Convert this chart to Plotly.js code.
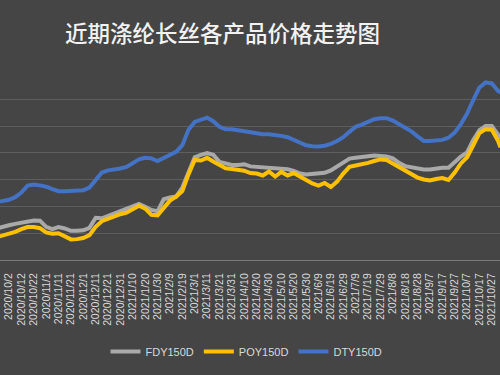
<!DOCTYPE html>
<html>
<head>
<meta charset="utf-8">
<script src="https://cdn.plot.ly/plotly-3.0.1.min.js"></script>
<style>
html,body{margin:0;padding:0;background:#454545;}
#chart{width:500px;height:375px;}
</style>
</head>
<body>
<div id="chart"></div>
<script>
// Sampling dates (roughly every 5 days)
var dates = [
 '2020-09-24','2020-09-27',
 '2020-10-02','2020-10-07','2020-10-12','2020-10-17','2020-10-22','2020-10-27','2020-11-01','2020-11-06','2020-11-11','2020-11-16',
 '2020-11-21','2020-11-26','2020-12-01','2020-12-06','2020-12-11','2020-12-16','2020-12-21','2020-12-26','2020-12-31','2021-01-05',
 '2021-01-10','2021-01-15','2021-01-20','2021-01-25','2021-01-30','2021-02-04','2021-02-09','2021-02-14','2021-02-19','2021-02-24',
 '2021-03-01','2021-03-06','2021-03-11','2021-03-16','2021-03-21','2021-03-26','2021-03-31','2021-04-05','2021-04-10','2021-04-15',
 '2021-04-20','2021-04-25','2021-04-30','2021-05-05','2021-05-10','2021-05-15','2021-05-20','2021-05-25','2021-05-30','2021-06-04',
 '2021-06-09','2021-06-14','2021-06-19','2021-06-24','2021-06-29','2021-07-04','2021-07-09','2021-07-14','2021-07-19','2021-07-24',
 '2021-07-29','2021-08-03','2021-08-08','2021-08-13','2021-08-18','2021-08-23','2021-08-28','2021-09-02','2021-09-07','2021-09-12',
 '2021-09-17','2021-09-22','2021-09-27','2021-10-02','2021-10-07','2021-10-12','2021-10-17','2021-10-22','2021-10-27','2021-11-01',
 '2021-11-03'
];

var fdy150d = [
 5200, 5250,
 5300, 5350, 5390, 5460, 5480, 5470, 5240, 5150, 5230, 5180,
 5090, 5090, 5110, 5200, 5580, 5560, 5650, 5750, 5860, 5940,
 6010, 6100, 5990, 5870, 5820, 6270, 6340, 6370, 6710, 7310,
 7840, 7930, 8000, 7930, 7670, 7610, 7550, 7550, 7580, 7500,
 7480, 7460, 7450, 7430, 7420, 7390, 7330, 7230, 7200, 7230,
 7260, 7260, 7350, 7510, 7670, 7790, 7820, 7850, 7870, 7910,
 7890, 7870, 7800, 7630, 7510, 7460, 7420, 7380, 7380, 7420,
 7450, 7450, 7650, 7870, 8020, 8490, 8850, 9010, 9010, 8680,
 8550
];

var poy150d = [
 4880, 4920,
 4970, 5050, 5150, 5230, 5230, 5190, 5030, 4980, 5000, 4880,
 4770, 4780, 4820, 4930, 5240, 5450, 5540, 5640, 5710, 5770,
 5900, 6030, 5920, 5690, 5670, 5920, 6220, 6370, 6580, 7200,
 7740, 7720, 7820, 7680, 7550, 7430, 7400, 7370, 7340, 7250,
 7230, 7160, 7310, 7120, 7290, 7160, 7250, 7120, 6970, 6860,
 6780, 6880, 6730, 6930, 7230, 7480, 7530, 7570, 7630, 7700,
 7760, 7740, 7610, 7440, 7330, 7210, 7080, 7010, 6970, 7030,
 7060, 6990, 7270, 7610, 7840, 8290, 8740, 8890, 8870, 8460,
 8210
];

var dty150d = [
 6180, 6200,
 6250, 6350, 6520, 6780, 6820, 6790, 6740, 6650, 6570, 6570,
 6580, 6590, 6610, 6710, 7010, 7270, 7350, 7380, 7420, 7480,
 7610, 7760, 7820, 7800, 7700, 7820, 7930, 8040, 8290, 8870,
 9160, 9250, 9320, 9190, 8980, 8890, 8890, 8850, 8810, 8780,
 8720, 8700, 8700, 8680, 8640, 8590, 8500, 8380, 8290, 8250,
 8240, 8270, 8340, 8450, 8590, 8790, 8980, 9060, 9170, 9260,
 9300, 9300, 9210, 9090, 8960, 8810, 8620, 8450, 8450, 8460,
 8490, 8570, 8760, 9080, 9470, 9980, 10450, 10640, 10600, 10320,
 10260
];

var tickLabels = [
 '2020/10/2','2020/10/12','2020/10/22','2020/11/1','2020/11/11','2020/11/21','2020/12/1','2020/12/11','2020/12/21','2020/12/31',
 '2021/1/10','2021/1/20','2021/1/30','2021/2/9','2021/2/19','2021/3/1','2021/3/11','2021/3/21','2021/3/31','2021/4/10',
 '2021/4/20','2021/4/30','2021/5/10','2021/5/20','2021/5/30','2021/6/9','2021/6/19','2021/6/29','2021/7/9','2021/7/19',
 '2021/7/29','2021/8/8','2021/8/18','2021/8/28','2021/9/7','2021/9/17','2021/9/27','2021/10/7','2021/10/17','2021/10/27'
];
var seriesNames = ['FDY150D','POY150D','DTY150D'];
var titleText = '近期涤纶长丝各产品价格走势图';

var tickVals = tickLabels.map(function(s){ return s.replace(/\//g,'-'); });

var colors = ['#a9a9a9','#ffc000','#4472c4'];
var series = [fdy150d, poy150d, dty150d];
var traces = series.map(function(vals, i){
  return {
    type:'scatter', mode:'lines', x: dates, y: vals, name: seriesNames[i],
    line:{color: colors[i], width: 4}
  };
});

var layout = {
  width:500, height:375,
  paper_bgcolor:'#454545', plot_bgcolor:'#454545',
  margin:{l:0, r:0, t:73, b:115, autoexpand:false},
  title:{text:titleText, font:{family:'Noto Sans CJK SC', size:22.5, color:'#f2f2f2', weight:500},
         xref:'paper', x:0.445, xanchor:'center', yref:'container', y:0.909, yanchor:'middle'},
  xaxis:{type:'date', range:['2020-09-24 17:30','2021-11-02 14:30'], automargin:false,
         tickmode:'array', tickvals:tickVals, ticktext:tickLabels, tickangle:-90,
         tickfont:{family:'Liberation Sans', size:10.5, color:'#d9d9d9'}, ticklabelstandoff:8,
         showgrid:false, showline:true, linecolor:'#7a7a7a', linewidth:1, ticks:'', zeroline:false},
  yaxis:{range:[4000,10990], dtick:1000, tick0:0, showticklabels:false, showgrid:true, automargin:false,
         gridcolor:'#5e5e5e', gridwidth:1, zeroline:false, showline:false, ticks:''},
  showlegend:true,
  legend:{orientation:'h', xref:'paper', x:0.493, xanchor:'center', yref:'container', y:0.024, yanchor:'bottom',
          font:{family:'Liberation Sans', size:11, color:'#d9d9d9'}, bgcolor:'rgba(0,0,0,0)', borderwidth:0},
  font:{family:'Liberation Sans'}
};

Plotly.newPlot('chart', traces, layout, {displayModeBar:false, staticPlot:true});
</script>
</body>
</html>
